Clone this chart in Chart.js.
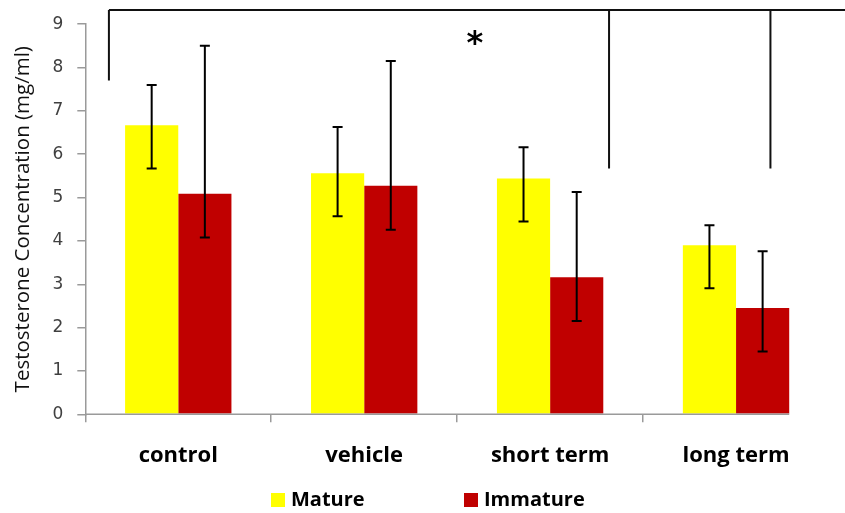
<!DOCTYPE html>
<html>
<head>
<meta charset="utf-8">
<script src="https://cdn.jsdelivr.net/npm/chart.js@4.4.1/dist/chart.umd.min.js"></script>
<style>
  html, body { margin: 0; padding: 0; background: #ffffff; }
  #wrap { width: 845px; height: 513px; }
</style>
</head>
<body>
<div id="wrap"><canvas id="c" width="845" height="513"></canvas></div>
<script>
// ---- data ----
const categories = ['control', 'vehicle', 'short term', 'long term'];
const seriesNames = ['Mature', 'Immature'];
const matureValues = [6.67, 5.56, 5.44, 3.90];
const matureErrTop = [7.60, 6.63, 6.16, 4.36];
const matureErrBottom = [5.67, 4.57, 4.45, 2.91];
const immatureValues = [5.09, 5.27, 3.16, 2.45];
const immatureErrTop = [8.50, 8.15, 5.13, 3.76];
const immatureErrBottom = [4.08, 4.26, 2.15, 1.45];
const yTicks = [0, 1, 2, 3, 4, 5, 6, 7, 8, 9];
// significance bracket (category index units / value units)
const bracketLegsX = [-0.373, 2.317, 3.185];
const bracketLegsBottom = [7.70, 5.67, 5.67];
const bracketTopValue = 9.33;
const bracketEndX = 3.59;
const starX = 1.595;
const starY = 8.66;

const colors = ['#FFFF00', '#C00000'];
const axisGray = '#9a9a9a';

const errorBars = {
  id: 'errorBars',
  afterDatasetsDraw(chart) {
    const ctx = chart.ctx;
    const y = chart.scales.y;
    const tops = [matureErrTop, immatureErrTop];
    const bots = [matureErrBottom, immatureErrBottom];
    ctx.save();
    ctx.strokeStyle = '#000000';
    ctx.lineWidth = 2;
    chart.data.datasets.forEach((ds, di) => {
      const meta = chart.getDatasetMeta(di);
      meta.data.forEach((bar, i) => {
        const x = bar.x;
        const yt = y.getPixelForValue(tops[di][i]);
        const yb = y.getPixelForValue(bots[di][i]);
        ctx.beginPath();
        ctx.moveTo(x, yt); ctx.lineTo(x, yb);
        ctx.moveTo(x - 5, yt); ctx.lineTo(x + 5, yt);
        ctx.moveTo(x - 5, yb); ctx.lineTo(x + 5, yb);
        ctx.stroke();
      });
    });
    ctx.restore();
  }
};

const annotations = {
  id: 'annotations',
  afterDraw(chart) {
    const ctx = chart.ctx;
    const xs = chart.scales.x, ys = chart.scales.y;
    const area = chart.chartArea;
    ctx.save();
    // x-axis baseline up to end of the last bar
    const lastMeta = chart.getDatasetMeta(chart.data.datasets.length - 1);
    const lastBar = lastMeta.data[lastMeta.data.length - 1];
    const endX = lastBar.x + lastBar.width / 2;
    ctx.strokeStyle = axisGray;
    ctx.lineWidth = 1.5;
    ctx.beginPath();
    ctx.moveTo(area.left, area.bottom);
    ctx.lineTo(endX, area.bottom);
    ctx.stroke();

    // bracket
    ctx.strokeStyle = '#111111';
    ctx.lineWidth = 2;
    const yTop = ys.getPixelForValue(bracketTopValue);
    ctx.beginPath();
    ctx.moveTo(xs.getPixelForValue(bracketLegsX[0]), yTop);
    ctx.lineTo(xs.getPixelForValue(bracketEndX), yTop);
    bracketLegsX.forEach((bx, i) => {
      const px = xs.getPixelForValue(bx);
      ctx.moveTo(px, yTop);
      ctx.lineTo(px, ys.getPixelForValue(bracketLegsBottom[i]));
    });
    ctx.stroke();

    // asterisk
    ctx.fillStyle = '#000000';
    ctx.font = 'bold 32px "DejaVu Sans"';
    ctx.textAlign = 'center';
    ctx.textBaseline = 'middle';
    ctx.fillText('*', xs.getPixelForValue(starX), ys.getPixelForValue(starY) + 6);

    // legend
    ctx.font = 'bold 20px "Open Sans"';
    ctx.textAlign = 'left';
    ctx.textBaseline = 'middle';
    const legendItems = [{x: 271}, {x: 464}];
    chart.data.datasets.forEach((ds, i) => {
      const lx = legendItems[i].x;
      ctx.fillStyle = ds.backgroundColor;
      ctx.fillRect(lx, 493, 14, 14);
      ctx.fillStyle = '#000000';
      ctx.fillText(ds.label, lx + 20, 500);
    });
    ctx.restore();
  }
};

new Chart(document.getElementById('c'), {
  type: 'bar',
  data: {
    labels: categories,
    datasets: [
      { label: seriesNames[0], data: matureValues, backgroundColor: colors[0], borderWidth: 0 },
      { label: seriesNames[1], data: immatureValues, backgroundColor: colors[1], borderWidth: 0 }
    ]
  },
  plugins: [errorBars, annotations],
  options: {
    responsive: false,
    animation: false,
    devicePixelRatio: 1,
    layout: { padding: { top: 23.7, right: 16, bottom: 0, left: 0 } },
    plugins: { legend: { display: false }, tooltip: { enabled: false } },
    datasets: { bar: { categoryPercentage: 0.572, barPercentage: 1.0 } },
    scales: {
      x: {
        offset: true,
        border: { display: false },
        grid: {
          offset: true,
          drawOnChartArea: false,
          drawTicks: true,
          tickLength: 8,
          color: (c) => (c.type === 'tick' ? axisGray : 'rgba(0,0,0,0)'),
          lineWidth: 1.5
        },
        ticks: {
          color: '#000000',
          padding: 20,
          font: { family: 'Open Sans', size: 22, weight: 'bold' }
        },
        afterFit: (s) => { s.height = 98.7; }
      },
      y: {
        min: 0, max: 9,
        afterBuildTicks: (s) => { s.ticks = yTicks.map(v => ({ value: v })); },
        border: { display: true, color: axisGray, width: 1.5 },
        grid: { drawOnChartArea: false, drawTicks: true, tickLength: 8, color: axisGray, lineWidth: 1.5 },
        ticks: {
          color: '#404040',
          padding: 14,
          font: { family: 'DejaVu Sans', size: 17 }
        },
        title: {
          display: true,
          text: 'Testosterone Concentration (mg/ml)',
          color: '#111111',
          font: { family: 'Open Sans', size: 20.5 },
          padding: { top: 11, bottom: 0 }
        },
        afterFit: (s) => { s.width = 85.3; }
      }
    }
  }
});
</script>
</body>
</html>
